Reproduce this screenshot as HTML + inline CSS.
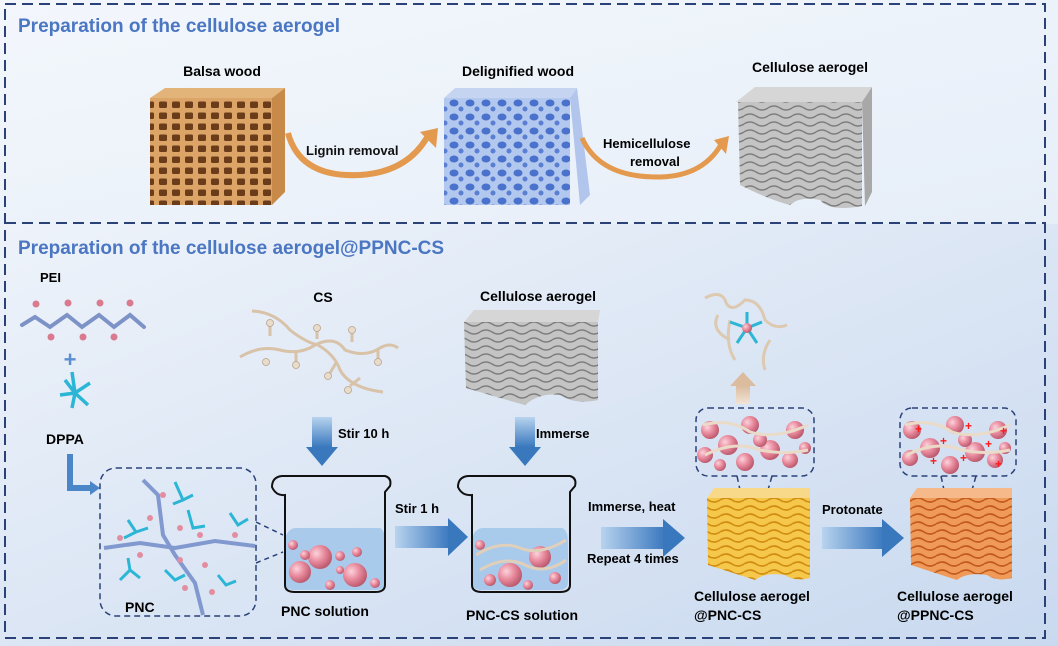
<!DOCTYPE html>
<html><head><meta charset="utf-8"><style>
html,body{margin:0;padding:0;background:#fff}
svg{display:block}
text{font-family:"Liberation Sans",Arial,sans-serif;font-weight:bold}
</style></head><body>
<svg width="1058" height="646" viewBox="0 0 1058 646" xmlns="http://www.w3.org/2000/svg">
<defs>
<linearGradient id="bg1" x1="0" y1="0" x2="1" y2="1"><stop offset="0" stop-color="#f3f7fc"/><stop offset="1" stop-color="#e6eef8"/></linearGradient>
<linearGradient id="bg2" x1="0" y1="0" x2="1" y2="1"><stop offset="0" stop-color="#eef3fa"/><stop offset="1" stop-color="#c9d9ef"/></linearGradient>
<linearGradient id="arrB" x1="0" y1="0" x2="1" y2="0"><stop offset="0" stop-color="#b8d3ee"/><stop offset="1" stop-color="#3a78be"/></linearGradient>
<linearGradient id="arrD" x1="0" y1="0" x2="0" y2="1"><stop offset="0" stop-color="#b8d3ee"/><stop offset="1" stop-color="#3a78be"/></linearGradient>
<linearGradient id="arrU" x1="0" y1="1" x2="0" y2="0"><stop offset="0" stop-color="#f1e4d6"/><stop offset="1" stop-color="#d8b89a"/></linearGradient>
<pattern id="balsa" width="13" height="11" patternUnits="userSpaceOnUse"><rect width="13" height="11" fill="#dca466"/><rect x="3" y="2.5" width="8" height="6.5" rx="1.5" fill="#6a3c1a"/></pattern>
<pattern id="deli" width="16" height="14" patternUnits="userSpaceOnUse"><rect width="16" height="14" fill="#b3c8ef"/><ellipse cx="6" cy="5" rx="4.5" ry="3.5" fill="#4a72cc"/><ellipse cx="13" cy="11" rx="2.5" ry="2.5" fill="#5a7fd2"/></pattern>
<pattern id="grayw" width="24" height="8" patternUnits="userSpaceOnUse"><rect width="24" height="8" fill="#c4c4c4"/><path d="M0 4 Q6 0 12 4 T24 4" stroke="#7e7e7e" stroke-width="1.4" fill="none"/></pattern>
<pattern id="yelw" width="24" height="8" patternUnits="userSpaceOnUse"><rect width="24" height="8" fill="#f5c74a"/><path d="M0 4 Q6 0 12 4 T24 4" stroke="#d08d12" stroke-width="1.6" fill="none"/></pattern>
<pattern id="orw" width="24" height="8" patternUnits="userSpaceOnUse"><rect width="24" height="8" fill="#f09a5a"/><path d="M0 4 Q6 0 12 4 T24 4" stroke="#c25a1c" stroke-width="1.6" fill="none"/></pattern>
<radialGradient id="pink" cx="0.35" cy="0.35" r="0.7"><stop offset="0" stop-color="#fbd3dc"/><stop offset="0.5" stop-color="#e8899c"/><stop offset="1" stop-color="#b8566a"/></radialGradient>
</defs>

<rect x="0" y="0" width="1058" height="224" fill="url(#bg1)"/>
<rect x="0" y="224" width="1058" height="422" fill="url(#bg2)"/>
<g fill="none" stroke="#2b4279" stroke-width="2" stroke-dasharray="11,6">
<rect x="5" y="4" width="1040" height="634"/>
<line x1="5" y1="223" x2="1045" y2="223"/>
</g>

<text x="18" y="32" font-size="19" fill="#4a76c2">Preparation of the cellulose aerogel</text>
<text x="18" y="254" font-size="19" fill="#4a76c2">Preparation of the cellulose aerogel@PPNC-CS</text>

<text x="222" y="76" font-size="14" text-anchor="middle">Balsa wood</text>
<polygon points="150,98 165,88 285,88 272,98" fill="#e2b47a"/>
<polygon points="272,98 285,88 285,192 272,205" fill="#c88a48"/>
<rect x="150" y="98" width="122" height="107" fill="url(#balsa)"/>

<path d="M288 133 Q300 178 360 175 Q410 172 430 132" fill="none" stroke="#e39a4f" stroke-width="6"/>
<polygon points="420,132 438,128 436,148" fill="#e39a4f"/>
<text x="306" y="155" font-size="13" fill="#111">Lignin removal</text>

<text x="518" y="76" font-size="14" text-anchor="middle">Delignified wood</text>
<polygon points="444,98 455,88 577,88 570,98" fill="#c5d4f1"/>
<polygon points="570,98 577,88 590,195 580,205" fill="#b2c5ec"/>
<rect x="444" y="98" width="126" height="107" fill="url(#deli)"/>

<path d="M582 138 Q600 178 660 177 Q705 176 723 141" fill="none" stroke="#e39a4f" stroke-width="5"/>
<polygon points="714,140 729,136 726,154" fill="#e39a4f"/>
<text x="603" y="148" font-size="13">Hemicellulose</text>
<text x="630" y="166" font-size="13">removal</text>

<text x="810" y="72" font-size="14" text-anchor="middle">Cellulose aerogel</text>
<polygon points="736,102 755,87 872,87 862,102" fill="#d6d6d6"/>
<polygon points="862,102 872,87 872,192 865,206" fill="#a8a8a8"/>
<path d="M738 102 H862 V206 Q830 212 820 200 Q800 196 790 205 Q770 200 740 185 Z" fill="url(#grayw)"/>

<text x="40" y="282" font-size="13">PEI</text>
<g stroke="#7d93c8" stroke-width="4" fill="none" stroke-linecap="round"><path d="M22 325 L35 317 L50 327 L67 315 L82 327 L99 315 L114 327 L130 315 L144 327"/></g>
<g fill="#d97a8e"><circle cx="36" cy="304" r="3.5"/><circle cx="68" cy="303" r="3.5"/><circle cx="100" cy="303" r="3.5"/><circle cx="130" cy="303" r="3.5"/><circle cx="51" cy="337" r="3.5"/><circle cx="83" cy="337" r="3.5"/><circle cx="114" cy="337" r="3.5"/></g>
<text x="70" y="367" font-size="22" fill="#5a8fd1" text-anchor="middle">+</text>
<g stroke="#2bb6d6" stroke-width="3.5" fill="none"><path d="M72 372 L75 393 L90 383 M75 393 L60 395 M75 393 L72 408 M75 393 L88 405 M75 393 L65 380"/></g>
<text x="46" y="444" font-size="14">DPPA</text>
<path d="M70 454 V488 H92" fill="none" stroke="#4a86c8" stroke-width="6"/>
<polygon points="90,481 100,488 90,495" fill="#4a86c8"/>

<rect x="100" y="468" width="156" height="148" rx="16" fill="none" stroke="#2b4279" stroke-width="1.5" stroke-dasharray="6,4"/>
<g stroke="#8199cf" stroke-width="4" fill="none"><path d="M143 480 L158 495 L163 535 L175 555 L195 583 L203 615"/><path d="M104 548 L140 543 L175 548 L215 541 L255 546"/></g>
<g stroke="#2bb6d6" stroke-width="3" fill="none"><path d="M175 482 l8 18 l10 -5 M183 500 l-10 4 M128 520 l8 12 l-12 6 M136 532 l12 -4 M188 510 l5 18 l12 -2 M230 513 l8 12 l10 -6 M120 580 l10 -10 l10 8 M130 570 l-2 -12 M165 570 l10 10 l10 -5 M218 575 l8 10 l10 -4"/></g>
<g fill="#e28ea0"><circle cx="163" cy="495" r="3"/><circle cx="150" cy="518" r="3"/><circle cx="180" cy="528" r="3"/><circle cx="120" cy="538" r="3"/><circle cx="200" cy="535" r="3"/><circle cx="235" cy="535" r="3"/><circle cx="140" cy="555" r="3"/><circle cx="180" cy="560" r="3"/><circle cx="205" cy="565" r="3"/><circle cx="185" cy="588" r="3"/><circle cx="212" cy="592" r="3"/></g>
<text x="125" y="612" font-size="14">PNC</text>
<g stroke="#2b4279" stroke-width="1.5" stroke-dasharray="5,4"><line x1="256" y1="522" x2="283" y2="535"/><line x1="256" y1="563" x2="283" y2="552"/></g>

<text x="323" y="302" font-size="14" text-anchor="middle">CS</text>
<g stroke="#d8c2a8" stroke-width="3" fill="none"><path d="M240 357 Q260 345 280 350 Q300 355 315 345 Q335 335 345 350 Q365 358 380 348 Q390 342 398 348"/><path d="M252 311 Q275 312 290 330 Q305 342 318 345 Q335 355 340 370 Q350 388 383 392"/><path d="M270 336 V325 M296 352 V362 M317 339 V330 M352 342 V332 M378 350 V360 M336 363 l-6 10 M360 378 l-10 8"/></g>
<g fill="#e9dccb" stroke="#b8a48c" stroke-width="0.8"><circle cx="270" cy="323" r="3.5"/><circle cx="266" cy="362" r="3.5"/><circle cx="296" cy="365" r="3.5"/><circle cx="317" cy="328" r="3.5"/><circle cx="352" cy="330" r="3.5"/><circle cx="378" cy="362" r="3.5"/><circle cx="328" cy="376" r="3.5"/><circle cx="348" cy="390" r="3.5"/></g>

<rect x="312" y="417" width="20" height="30" fill="url(#arrD)"/><polygon points="306,447 338,447 322,466" fill="#3a78be"/>
<text x="338" y="438" font-size="13">Stir 10 h</text>

<path d="M285 543 Q285 530 295 528 H380 Q385 530 385 543 V582 Q385 590 375 590 H295 Q285 590 285 582 Z" fill="#a3c6ea" opacity="0.9"/>
<path d="M272 487 Q272 477 282 476 H385 Q392 478 390 486 L385 492 V585 Q385 592 375 592 H295 Q285 592 285 585 V495 Q276 496 272 487 Z" fill="none" stroke="#111" stroke-width="2"/>
<g fill="url(#pink)"><circle cx="320" cy="557" r="12"/><circle cx="355" cy="575" r="12"/><circle cx="300" cy="572" r="11"/><circle cx="293" cy="545" r="5"/><circle cx="305" cy="555" r="5"/><circle cx="340" cy="556" r="5"/><circle cx="357" cy="552" r="5"/><circle cx="330" cy="585" r="5"/><circle cx="375" cy="583" r="5"/><circle cx="340" cy="570" r="4"/></g>
<text x="281" y="616" font-size="14">PNC solution</text>

<rect x="395" y="526" width="55" height="22" fill="url(#arrB)"/><polygon points="448,518 448,556 468,537" fill="#3a78be"/>
<text x="395" y="513" font-size="13">Stir 1 h</text>

<text x="538" y="301" font-size="14" text-anchor="middle">Cellulose aerogel</text>
<polygon points="464,322 474,310 600,310 598,322" fill="#d6d6d6"/>
<path d="M464 322 H598 V400 Q575 405 560 395 Q540 392 525 405 Q500 398 466 388 Z" fill="url(#grayw)"/>

<rect x="515" y="417" width="20" height="30" fill="url(#arrD)"/><polygon points="509,447 541,447 525,466" fill="#3a78be"/>
<text x="536" y="438" font-size="13">Immerse</text>

<path d="M472 543 Q472 530 482 528 H562 Q568 530 568 543 V582 Q568 590 558 590 H482 Q472 590 472 582 Z" fill="#a3c6ea" opacity="0.9"/>
<path d="M458 487 Q458 477 468 476 H570 Q577 478 575 486 L570 492 V585 Q570 592 560 592 H482 Q472 592 472 585 V495 Q462 496 458 487 Z" fill="none" stroke="#111" stroke-width="2"/>
<g fill="url(#pink)"><circle cx="510" cy="575" r="12"/><circle cx="540" cy="557" r="11"/><circle cx="480" cy="545" r="5"/><circle cx="490" cy="580" r="6"/><circle cx="555" cy="578" r="6"/><circle cx="528" cy="585" r="5"/></g>
<g stroke="#e0cfba" stroke-width="3" fill="none"><path d="M476 555 Q500 540 520 548 Q540 556 566 540"/><path d="M480 570 Q505 555 525 565 Q545 575 566 560"/></g>
<text x="466" y="620" font-size="14">PNC-CS solution</text>

<text x="588" y="511" font-size="13">Immerse, heat</text>
<rect x="601" y="527" width="64" height="22" fill="url(#arrB)"/><polygon points="663,519 663,557 685,538" fill="#3a78be"/>
<text x="587" y="563" font-size="13">Repeat 4 times</text>

<g stroke="#ddc9b0" stroke-width="3" fill="none"><path d="M705 298 Q720 290 725 300 Q730 315 745 300 Q760 300 765 320 Q775 330 787 325 M730 320 Q725 345 735 360 M770 340 Q760 355 765 370 M718 315 Q710 330 730 340"/></g>
<g stroke="#2bb6d6" stroke-width="3"><line x1="747" y1="328" x2="747" y2="312"/><line x1="747" y1="328" x2="730" y2="322"/><line x1="747" y1="328" x2="762" y2="322"/><line x1="747" y1="328" x2="737" y2="343"/><line x1="747" y1="328" x2="757" y2="343"/></g>
<circle cx="747" cy="328" r="5" fill="url(#pink)"/>
<rect x="736" y="384" width="14" height="20" fill="url(#arrU)"/><polygon points="730,386 756,386 743,372" fill="#dcbc9e"/>

<g fill="url(#pink)">
<circle cx="710" cy="430" r="9"/><circle cx="728" cy="445" r="10"/><circle cx="750" cy="425" r="9"/><circle cx="770" cy="450" r="10"/><circle cx="795" cy="430" r="9"/><circle cx="705" cy="455" r="8"/><circle cx="745" cy="462" r="9"/><circle cx="790" cy="460" r="8"/><circle cx="760" cy="440" r="7"/><circle cx="720" cy="465" r="6"/><circle cx="805" cy="448" r="6"/>
<circle cx="912" cy="430" r="9"/><circle cx="930" cy="448" r="10"/><circle cx="955" cy="425" r="9"/><circle cx="975" cy="452" r="10"/><circle cx="998" cy="430" r="9"/><circle cx="910" cy="458" r="8"/><circle cx="950" cy="465" r="9"/><circle cx="995" cy="460" r="8"/><circle cx="965" cy="440" r="7"/><circle cx="1005" cy="448" r="6"/>
</g>
<g stroke="#eadbc8" stroke-width="3" fill="none">
<path d="M703 425 Q730 418 750 432 Q775 440 808 425"/><path d="M705 455 Q735 440 760 450 Q785 455 808 450"/>
<path d="M905 425 Q932 418 952 432 Q977 440 1010 425"/><path d="M907 455 Q937 440 962 450 Q987 455 1010 450"/>
</g>
<g fill="#ff1a1a" font-size="12"><text x="915" y="433">+</text><text x="940" y="445">+</text><text x="965" y="430">+</text><text x="985" y="448">+</text><text x="930" y="465">+</text><text x="960" y="462">+</text><text x="995" y="468">+</text><text x="1000" y="435">+</text></g>
<g fill="none" stroke="#2b4279" stroke-width="1.5" stroke-dasharray="6,4">
<rect x="696" y="408" width="118" height="68" rx="12"/>
<rect x="900" y="408" width="116" height="68" rx="12"/>
<path d="M737 476 L740 490 M772 476 L768 490"/><ellipse cx="754" cy="496" rx="12" ry="5"/>
<path d="M941 476 L944 490 M976 476 L972 490"/><ellipse cx="958" cy="496" rx="12" ry="5"/>
</g>

<polygon points="707,498 714,488 810,488 810,498" fill="#f8d98a"/>
<path d="M707 498 H810 V578 Q795 582 785 575 Q765 572 755 580 Q730 572 708 565 Z" fill="url(#yelw)"/>
<polygon points="910,498 917,488 1012,488 1012,498" fill="#f6b98a"/>
<path d="M910 498 H1012 V578 Q997 582 987 575 Q967 572 957 580 Q932 572 911 565 Z" fill="url(#orw)"/>

<text x="822" y="514" font-size="13">Protonate</text>
<rect x="822" y="527" width="62" height="22" fill="url(#arrB)"/><polygon points="882,519 882,557 904,538" fill="#3a78be"/>

<text x="694" y="601" font-size="14">Cellulose aerogel</text>
<text x="694" y="620" font-size="14">@PNC-CS</text>
<text x="897" y="601" font-size="14">Cellulose aerogel</text>
<text x="897" y="620" font-size="14">@PPNC-CS</text>
</svg>
</body></html>
